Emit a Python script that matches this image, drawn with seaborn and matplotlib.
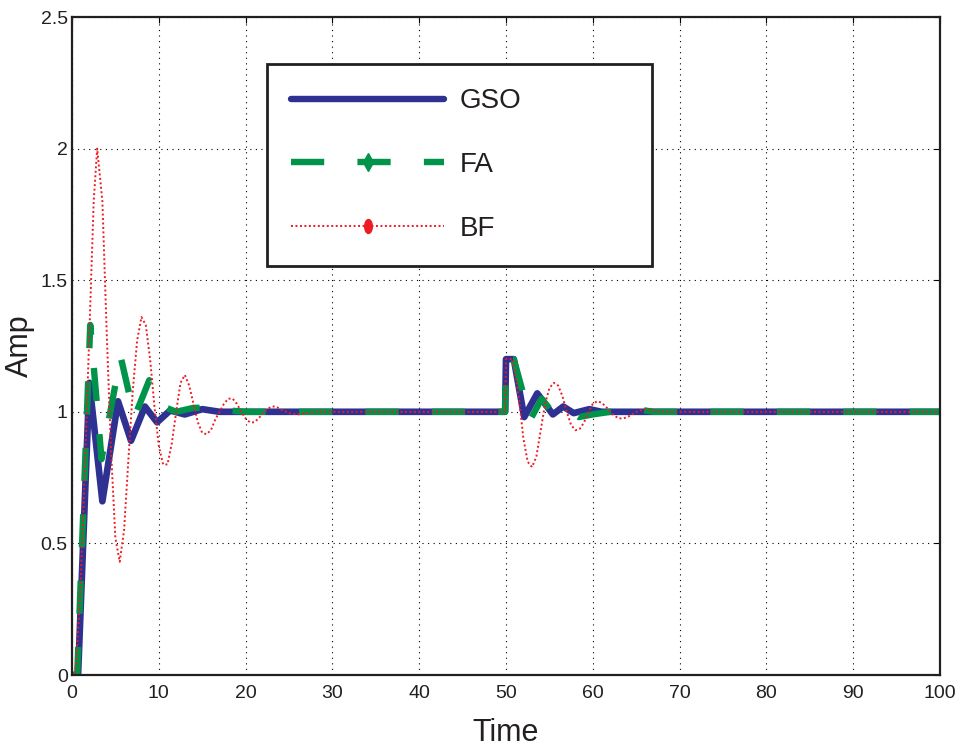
import numpy as np
import pandas as pd
import matplotlib
matplotlib.use("Agg")
import matplotlib.pyplot as plt
import seaborn as sns
from matplotlib.lines import Line2D
from matplotlib.path import Path
from matplotlib.transforms import Affine2D
from matplotlib.legend_handler import HandlerLine2D

# ---------------- data ----------------
t_gso = [0, 0.7, 2.0, 3.5, 5.3, 6.8, 8.4, 9.8, 11.3, 13.0, 15.0, 17.0,
         49.9, 50.0, 50.9, 52.1, 53.6, 55.4, 56.6, 57.8, 59.6, 61.0, 100]
amp_gso = [0, 0, 1.11, 0.66, 1.04, 0.89, 1.02, 0.96, 1.005, 0.99, 1.01, 1.0,
           1.0, 1.2, 1.2, 0.98, 1.07, 0.99, 1.02, 0.995, 1.01, 1.0, 1.0]

t_fa = [0, 0.6, 2.1, 3.4, 5.6, 7.2, 8.9, 10.5, 12.0, 14.0, 16.0, 18.0, 20.0,
        49.9, 50.0, 50.9, 52.8, 54.1, 55.3, 56.9, 58.4, 60.0, 62.0, 65.0, 67.0, 100]
amp_fa = [0, 0, 1.33, 0.82, 1.21, 0.98, 1.12, 1.02, 1.0, 1.015, 1.015, 1.005, 1.0,
          1.0, 1.2, 1.2, 0.97, 1.05, 1.0, 1.01, 0.98, 0.99, 1.0, 1.01, 1.0, 1.0]

t_bf = [0, 0.3, 0.5, 1.0, 1.5, 2.0, 2.5, 2.9, 3.5, 4.0, 4.5, 5.0, 5.5, 6.0, 6.5,
        7.0, 7.5, 8.0, 8.5, 9.0, 9.5, 10.0, 10.5, 11.0, 11.5, 12.0, 12.5, 13.0,
        13.5, 14.0, 14.5, 15.0, 15.5, 16.0, 16.5, 17.0, 17.5, 18.0, 18.5, 19.0,
        19.5, 20.0, 20.5, 21.0, 21.5, 22.0, 22.5, 23.0, 23.5, 24.0, 25.0, 26.0,
        27.0, 28.0,
        49.9, 50.0, 50.8, 51.5, 52.0, 52.5, 53.0, 53.5, 54.0, 54.5, 55.0, 55.5,
        56.0, 56.5, 57.0, 57.5, 58.0, 58.5, 59.0, 59.5, 60.0, 60.5, 61.0, 61.5,
        62.0, 62.5, 63.0, 63.5, 64.0, 65.0, 66.0, 67.0, 68.0, 100]
amp_bf = [0, 0, 0.05, 0.35, 0.8, 1.3, 1.8, 2.0, 1.8, 1.3, 0.85, 0.52, 0.43, 0.55, 0.82,
          1.08, 1.27, 1.36, 1.33, 1.2, 1.02, 0.87, 0.8, 0.8, 0.88, 1.0, 1.11, 1.14,
          1.1, 1.03, 0.96, 0.92, 0.915, 0.93, 0.97, 1.0, 1.03, 1.05, 1.05, 1.03,
          1.0, 0.975, 0.96, 0.96, 0.975, 0.995, 1.01, 1.02, 1.02, 1.01, 0.995, 0.99,
          0.995, 1.0,
          1.0, 1.2, 1.2, 1.05, 0.9, 0.81, 0.79, 0.83, 0.93, 1.03, 1.09, 1.11,
          1.1, 1.06, 1.0, 0.95, 0.93, 0.935, 0.96, 1.0, 1.03, 1.04, 1.035, 1.02,
          1.0, 0.985, 0.975, 0.975, 0.98, 1.0, 1.01, 1.005, 1.0, 1.0]

series_names = ["GSO", "FA", "BF"]
x_ticks = [0, 10, 20, 30, 40, 50, 60, 70, 80, 90, 100]
y_ticks = [0, 0.5, 1.0, 1.5, 2.0, 2.5]
y_tick_labels = ["0", "0.5", "1", "1.5", "2", "2.5"]

# ---------------- styling ----------------
sns.set_style("white")
plt.rcParams["font.family"] = ["Liberation Sans", "DejaVu Sans"]

c_blue = "#2E3192"
c_green = "#00934A"
c_red = "#ED1C24"
c_text = "#231F20"

fig = plt.figure(figsize=(9.7, 7.5), dpi=100)
ax = fig.add_axes([72 / 970, 1 - 675 / 750, (940 - 72) / 970, (675 - 17) / 750])

sns.lineplot(x=t_gso, y=amp_gso, ax=ax, color=c_blue, lw=4.8, sort=False,
             errorbar=None)
sns.lineplot(x=t_fa, y=amp_fa, ax=ax, color=c_green, lw=4.6, sort=False,
             errorbar=None, linestyle=(0, (5.2, 5.2)))
sns.lineplot(x=t_bf, y=amp_bf, ax=ax, color=c_red, lw=1.4, sort=False,
             errorbar=None, linestyle=(0, (1, 1.3)))

ax.set_xlim(0, 100)
ax.set_ylim(0, 2.5)
ax.set_xticks(x_ticks)
ax.set_xticklabels([str(v) for v in x_ticks])
ax.set_yticks(y_ticks)
ax.set_yticklabels(y_tick_labels)
ax.tick_params(axis="both", labelsize=14, direction="in", length=4,
               top=True, right=True, color="k", labelcolor=c_text)
ax.tick_params(axis="x", pad=7)
ax.tick_params(axis="y", pad=3)
ax.grid(True, linestyle=(0, (1, 4)), color="k", lw=0.8)
for s in ax.spines.values():
    s.set_color(c_text)
    s.set_linewidth(1.6)

ax.set_xlabel("Time", fontsize=22, color=c_text, labelpad=12)
ax.set_ylabel("Amp", fontsize=22, color=c_text, labelpad=4)

# legend handles with a centred marker
ell = Path.unit_circle().transformed(Affine2D().scale(0.55, 1.0))
handles = [
    Line2D([], [], color=c_blue, lw=4.6),
    Line2D([], [], color=c_green, lw=4.6, linestyle=(0, (5.2, 5.2)),
           marker="d", markersize=9),
    Line2D([], [], color=c_red, lw=1.4, linestyle=(0, (1, 1.3)),
           marker=ell, markersize=10),
]


class MidMarkerHandler(HandlerLine2D):
    def create_artists(self, legend, orig_handle, xdescent, ydescent, width,
                       height, fontsize, trans):
        y = height / 2.0 - ydescent
        xs = [-xdescent, -xdescent + width / 2.0, -xdescent + width]
        line = Line2D(xs, [y, y, y])
        self.update_prop(line, orig_handle, legend)
        line.set_transform(trans)
        if orig_handle.get_marker() not in (None, "None", ""):
            line.set_markevery([1])
        return [line]


leg = ax.legend(handles, series_names, loc="upper left",
                bbox_to_anchor=(0.2247, 0.626, 0.668 - 0.2247, 0.9286 - 0.626),
                mode="expand", fontsize=20, handlelength=5.5, handletextpad=0.55,
                labelspacing=1.36, borderpad=0.88, borderaxespad=0,
                fancybox=False, framealpha=1, edgecolor=c_text,
                handler_map={Line2D: MidMarkerHandler()})
leg.get_frame().set_linewidth(2.0)
for txt in leg.get_texts():
    txt.set_color(c_text)

fig.savefig("out.png", dpi=100)
